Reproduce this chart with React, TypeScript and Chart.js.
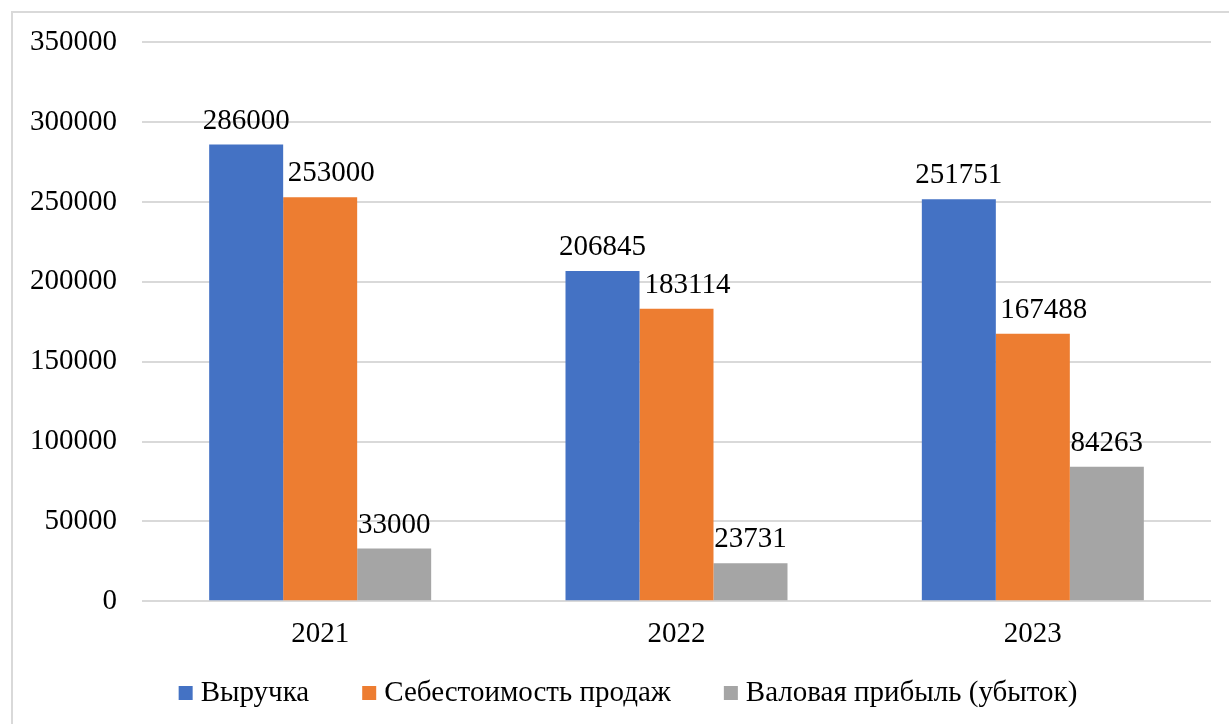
import React, { useEffect, useRef } from "react";
import { Chart, registerables } from "chart.js";

Chart.register(...registerables);

const categories = ["2021", "2022", "2023"];
const revenue = [286000, 206845, 251751];
const cost = [253000, 183114, 167488];
const grossProfit = [33000, 23731, 84263];
const seriesNames = ["Выручка", "Себестоимость продаж", "Валовая прибыль (убыток)"];
const yTicks = [0, 50000, 100000, 150000, 200000, 250000, 300000, 350000];

const FONT = '"Liberation Serif", "Times New Roman", serif';
const FS = 29;

const dataLabels = {
  id: "dataLabels",
  afterDatasetsDraw(chart: any) {
    const ctx = chart.ctx;
    ctx.save();
    ctx.font = `${FS}px ${FONT}`;
    ctx.fillStyle = "#000";
    ctx.textAlign = "center";
    ctx.textBaseline = "alphabetic";
    chart.data.datasets.forEach((ds: any, i: number) => {
      const meta = chart.getDatasetMeta(i);
      const dx = ds.labelShift || 0;
      meta.data.forEach((bar: any, j: number) => {
        ctx.fillText(String(ds.data[j]), bar.x + dx, bar.y - 16);
      });
    });
    ctx.restore();
  },
};

const customLegend = {
  id: "customLegend",
  afterDraw(chart: any) {
    const ctx = chart.ctx;
    ctx.save();
    ctx.font = `${FS}px ${FONT}`;
    const box = 14;
    const gapText = 8;
    const gapItem = 53;
    const items = chart.data.datasets.map((ds: any) => ({
      label: ds.label,
      color: ds.backgroundColor,
      w: box + gapText + ctx.measureText(ds.label).width,
    }));
    const total = items.reduce((s: number, it: any) => s + it.w, 0) + gapItem * (items.length - 1);
    let x = 628 - total / 2;
    const cy = 693;
    items.forEach((it: any) => {
      ctx.fillStyle = it.color;
      ctx.fillRect(x, cy - 7, box, box);
      ctx.fillStyle = "#000";
      ctx.textAlign = "left";
      ctx.textBaseline = "middle";
      ctx.fillText(it.label, x + box + gapText, cy);
      x += it.w + gapItem;
    });
    ctx.restore();
  },
};

export default function App() {
  const ref = useRef<HTMLCanvasElement>(null);
  useEffect(() => {
    if (!ref.current) return;
    const chart = new Chart(ref.current, {
      type: "bar",
      data: {
        labels: categories,
        datasets: [
          { label: seriesNames[0], data: revenue, backgroundColor: "#4472C4" },
          { label: seriesNames[1], data: cost, backgroundColor: "#ED7D31", labelShift: 11 } as any,
          { label: seriesNames[2], data: grossProfit, backgroundColor: "#A5A5A5" },
        ],
      },
      options: {
        animation: false,
        responsive: false,
        maintainAspectRatio: false,
        layout: { padding: { left: 0, right: 18, top: 41, bottom: 56 } },
        datasets: { bar: { categoryPercentage: 0.623, barPercentage: 1 } },
        scales: {
          x: {
            grid: { display: false, drawTicks: false },
            border: { display: false },
            ticks: { color: "#000", font: { family: FONT, size: FS }, padding: 16 },
          },
          y: {
            min: 0,
            max: 350000,
            afterFit: (s: any) => { s.width = 142; },
            afterBuildTicks: (s: any) => { s.ticks = yTicks.map((v) => ({ value: v })); },
            grid: { color: "#D9D9D9", lineWidth: 2, drawTicks: false },
            border: { display: false },
            ticks: {
              color: "#000",
              font: { family: FONT, size: FS },
              padding: 25,
              callback: (v: any) => String(v),
            },
          },
        },
        plugins: {
          legend: { display: false },
          tooltip: { enabled: false },
        },
      },
      plugins: [dataLabels, customLegend],
    });
    return () => chart.destroy();
  }, []);
  return (
    <div style={{ position: "fixed", left: 0, top: 0, width: 1229, height: 724, overflow: "hidden", background: "#fff" }}>
      <div style={{ position: "absolute", left: 11, top: 11, width: 1300, height: 800, border: "2px solid #D9D9D9" }} />
      <canvas ref={ref} width={1229} height={724} style={{ position: "absolute", left: 0, top: 0, width: 1229, height: 724 }} />
    </div>
  );
}
